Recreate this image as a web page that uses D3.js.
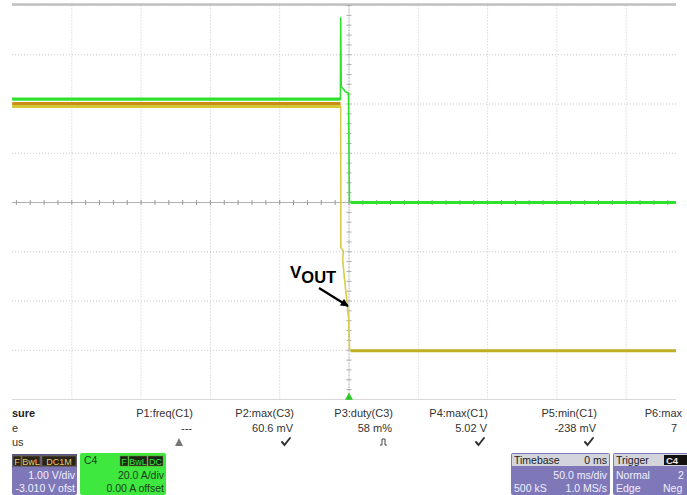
<!DOCTYPE html>
<html><head><meta charset="utf-8">
<script src="https://cdn.jsdelivr.net/npm/d3@7"></script>
<style>
body{margin:0;background:#fff}
svg{display:block;font-family:"Liberation Sans",Arial,sans-serif}
</style>
</head><body>
<svg id="c" width="687" height="495"></svg>
<script>
// ---------- data ----------
const timeDomain = [-250, 250];          // ms, 50 ms/div, 10 div
const divDomain = [-4, 4];               // vertical divisions
const c1VoltsPerDiv = 1.0, c1Offset = -3.010;
const c4AmpsPerDiv = 20.0, c4Offset = 0.0;
// C4 current trace [ms, A]
const c4Time = [-243, -6.2, -6.0, -5.6, -4.6, -2.6, -0.4, 0.3, 1.3, 236];
const c4Amps = [42, 42, 75, 47, 46.5, 45, 44.5, 0.5, 0, 0];
// C1 output voltage trace [ms, V]
const c1Time = [-243, -6.0, -5.9, -4.0, -4.6, -3.4, -1.2, -0.3, 0.4, 1.3, 236];
const c1Volts = [4.96, 4.96, 2.1, 2.02, 1.86, 1.5, 0.92, 0.66, 0.02, 0.0, 0.0];
// C1 persistence (upper band, max level)
const c1MaxTime = [-243, -6.1];
const c1MaxVolts = [5.02, 5.02];
// measurements
const measureNames = ["P1:freq(C1)", "P2:max(C3)", "P3:duty(C3)", "P4:max(C1)", "P5:min(C1)", "P6:max"];
const measureValues = ["---", "60.6 mV", "58 m%", "5.02 V", "-238 mV", "7"];
const measureStatus = ["warn", "ok", "pulse", "ok", "ok", "none"];
const rowLabels = ["sure", "e", "us"];   // visible ends of Measure / value / status

// ---------- layout ----------
const svg = d3.select("#c");
const plot = {left: 12, right: 676, top: 5.5, bottom: 399.5};
const x = d3.scaleLinear().domain(timeDomain).range([2.5, 695.5]);
const y = d3.scaleLinear().domain(divDomain).range([plot.bottom, plot.top]);
const yC1 = v => y((v + c1Offset) / c1VoltsPerDiv);
const yC4 = a => y((a + c4Offset) / c4AmpsPerDiv);

const defs = svg.append("defs");
defs.append("clipPath").attr("id", "pc").append("rect")
  .attr("x", plot.left).attr("y", 0).attr("width", plot.right - plot.left).attr("height", 402);
defs.append("clipPath").attr("id", "all").append("rect")
  .attr("x", 12).attr("y", 0).attr("width", 675).attr("height", 495);
defs.append("marker").attr("id", "ah").attr("viewBox", "0 0 10 10")
  .attr("refX", 9).attr("refY", 5).attr("markerWidth", 4.2).attr("markerHeight", 3.6)
  .attr("orient", "auto").append("path").attr("d", "M0,0L10,5L0,10z").attr("fill", "#000");

const g = svg.append("g").attr("clip-path", "url(#pc)");

// grid
const vLines = d3.range(-250, 251, 50);
const hLines = d3.range(-4, 5, 1);
g.selectAll("line.v").data(vLines).join("line")
  .attr("x1", d => x(d)).attr("x2", d => x(d)).attr("y1", plot.top).attr("y2", plot.bottom)
  .attr("stroke", "#c8c8c8").attr("stroke-width", 1).attr("stroke-dasharray", "1,2");
g.selectAll("line.h").data(hLines).join("line")
  .attr("x1", plot.left).attr("x2", plot.right).attr("y1", d => y(d)).attr("y2", d => y(d))
  .attr("stroke", "#c8c8c8").attr("stroke-width", 1).attr("stroke-dasharray", "1,2");
g.append("line").attr("x1", plot.left).attr("x2", plot.right).attr("y1", 4.5).attr("y2", 4.5)
  .attr("stroke", "#c0c0c0").attr("stroke-width", 2.5);
g.append("line").attr("x1", plot.left).attr("x2", plot.right).attr("y1", plot.bottom).attr("y2", plot.bottom)
  .attr("stroke", "#d8d8d8").attr("stroke-width", 1);
// centre axes with minor ticks
g.append("line").attr("x1", plot.left).attr("x2", plot.right).attr("y1", y(0)).attr("y2", y(0))
  .attr("stroke", "#b0b0b0").attr("stroke-width", 1);
g.append("line").attr("x1", x(0)).attr("x2", x(0)).attr("y1", plot.top).attr("y2", plot.bottom)
  .attr("stroke", "#c0c0c0").attr("stroke-width", 1).attr("stroke-dasharray", "2,1");
g.selectAll("line.tx").data(d3.range(-250, 251, 10)).join("line")
  .attr("x1", d => x(d)).attr("x2", d => x(d)).attr("y1", y(0) - 2.5).attr("y2", y(0) + 2.5)
  .attr("stroke", "#999").attr("stroke-width", 1);
g.selectAll("line.ty").data(d3.range(-4, 4.01, 0.2)).join("line")
  .attr("x1", x(0) - 2.5).attr("x2", x(0) + 2.5).attr("y1", d => y(d)).attr("y2", d => y(d))
  .attr("stroke", "#aaa").attr("stroke-width", 1);

// traces
const line = d3.line();
const c1Pts = c1Time.map((t, i) => [x(t), yC1(c1Volts[i])]);
const c1MaxPts = c1MaxTime.map((t, i) => [x(t), yC1(c1MaxVolts[i])]);
const c4Pts = c4Time.map((t, i) => [x(t), yC4(c4Amps[i])]);
const n1 = c1Pts.length, n4 = c4Pts.length;

// C1: thin transition, thick flat levels
g.append("path").attr("d", line(c1Pts)).attr("fill", "none")
  .attr("stroke", "#d8cc48").attr("stroke-width", 1.6);
g.append("path").attr("d", line(c1Pts.slice(0, 2))).attr("fill", "none")
  .attr("stroke", "#d6c634").attr("stroke-width", 3.2);
g.append("path").attr("d", line(c1Pts.slice(n1 - 2))).attr("fill", "none")
  .attr("stroke", "#bfae20").attr("stroke-width", 3.2);
g.append("path").attr("d", line(c1MaxPts)).attr("fill", "none")
  .attr("stroke", "#c98d18").attr("stroke-width", 3);
// C4
g.append("path").attr("d", line(c4Pts)).attr("fill", "none")
  .attr("stroke", "#2fe02f").attr("stroke-width", 1.6).attr("stroke-linejoin", "round");
g.append("path").attr("d", line(c4Pts.slice(0, 2))).attr("fill", "none")
  .attr("stroke", "#2fe02f").attr("stroke-width", 3.2);
g.append("path").attr("d", line(c4Pts.slice(n4 - 2))).attr("fill", "none")
  .attr("stroke", "#2fe02f").attr("stroke-width", 3.2);

// trigger marker
svg.append("path").attr("d", d3.symbol(d3.symbolTriangle, 28)())
  .attr("transform", `translate(${x(0)},${plot.bottom - 2})`).attr("fill", "#2ccc2c");

// VOUT annotation
const ann = svg.append("text").attr("font-weight", "bold").attr("fill", "#000");
ann.append("tspan").attr("x", 290).attr("y", 278).attr("font-size", 17).text("V");
ann.append("tspan").attr("dy", 5).attr("font-size", 16.5).text("OUT");
svg.append("line").attr("x1", 319).attr("y1", 288).attr("x2", 348).attr("y2", 306)
  .attr("stroke", "#000").attr("stroke-width", 2.2).attr("marker-end", "url(#ah)");

// ---------- bottom panel ----------
const bp = svg.append("g").attr("clip-path", "url(#all)");
const rowY = [417, 432, 446];
bp.append("text").attr("x", 12).attr("y", rowY[0]).attr("font-size", 11).attr("font-weight", "bold")
  .attr("fill", "#222").text(rowLabels[0]);
bp.append("text").attr("x", 12).attr("y", rowY[1]).attr("font-size", 11).attr("fill", "#333").text(rowLabels[1]);
bp.append("text").attr("x", 12).attr("y", rowY[2]).attr("font-size", 11).attr("fill", "#333").text(rowLabels[2]);

const colRight = [193, 294, 393, 488, 597, 682];
const mcol = bp.selectAll("g.m").data(measureNames).join("g");
mcol.append("text").attr("x", (d, i) => colRight[i]).attr("y", rowY[0]).attr("text-anchor", "end")
  .attr("font-size", 11).attr("fill", "#333").text(d => d);
mcol.append("text").attr("x", (d, i) => i === 5 ? 677 : colRight[i] - 1).attr("y", rowY[1]).attr("text-anchor", "end")
  .attr("font-size", 11).attr("fill", "#333").text((d, i) => measureValues[i]);
mcol.each(function(d, i) {
  const s = measureStatus[i], cx = colRight[i] - 8, cy = rowY[2] - 4;
  const sel = d3.select(this);
  if (s === "ok") {
    sel.append("path").attr("d", `M${cx-4},${cy}L${cx-1.5},${cy+3}L${cx+4},${cy-4}`)
      .attr("fill", "none").attr("stroke", "#333").attr("stroke-width", 2).attr("stroke-linecap", "round");
  } else if (s === "warn") {
    sel.append("path").attr("d", `M${cx-10},${cy+4}L${cx-6},${cy-4}L${cx-2},${cy+4}z`).attr("fill", "#777");
  } else if (s === "pulse") {
    sel.append("path").attr("d", `M${cx-5},${cy+3}L${cx-3},${cy+3}L${cx-3},${cy-3}L${cx},${cy-3}L${cx},${cy+3}L${cx+2},${cy+3}`)
      .attr("fill", "none").attr("stroke", "#444").attr("stroke-width", 1);
  }
});

// channel boxes
function tag(parent, x0, w, txt, bg, fg) {
  parent.append("rect").attr("x", x0).attr("y", 456).attr("width", w).attr("height", 10).attr("fill", bg).attr("stroke", "#8a7a40").attr("stroke-width", 0.5);
  parent.append("text").attr("x", x0 + w / 2).attr("y", 464.5).attr("text-anchor", "middle")
    .attr("font-size", 9).attr("fill", fg).text(txt);
}
// C1
bp.append("rect").attr("x", 12).attr("y", 454).attr("width", 65).attr("height", 41).attr("rx", 2).attr("fill", "#7f78b8");
bp.append("rect").attr("x", 12).attr("y", 454).attr("width", 65).attr("height", 13).attr("fill", "#5a5480");
tag(bp, 13, 8, "F", "#2a2418", "#e8c870");
tag(bp, 22, 18, "BwL", "#2a2418", "#e8c870");
tag(bp, 42, 34, "DC1M", "#2a2418", "#e8c870");
bp.append("text").attr("x", 75).attr("y", 479).attr("text-anchor", "end").attr("font-size", 10.5).attr("fill", "#f0f0ff").text("1.00 V/div");
bp.append("text").attr("x", 75).attr("y", 492).attr("text-anchor", "end").attr("font-size", 10.5).attr("fill", "#f0f0ff").text("-3.010 V ofst");
// C4
bp.append("rect").attr("x", 80).attr("y", 453).attr("width", 86).attr("height", 42).attr("rx", 2).attr("fill", "#3ee83e");
bp.append("text").attr("x", 84).attr("y", 464).attr("font-size", 10.5).attr("fill", "#1d3d1d").text("C4");
tag(bp, 120, 8, "F", "#142814", "#40e040");
tag(bp, 129, 18, "BwL", "#142814", "#40e040");
tag(bp, 148, 15, "DC", "#142814", "#40e040");
bp.append("text").attr("x", 164).attr("y", 479).attr("text-anchor", "end").attr("font-size", 10.5).attr("fill", "#1d3d1d").text("20.0 A/div");
bp.append("text").attr("x", 164).attr("y", 492).attr("text-anchor", "end").attr("font-size", 10.5).attr("fill", "#1d3d1d").text("0.00 A offset");
// Timebase
bp.append("rect").attr("x", 511).attr("y", 453).attr("width", 99).attr("height", 42).attr("rx", 2).attr("fill", "#7f78b8");
bp.append("rect").attr("x", 512).attr("y", 454).attr("width", 97).attr("height", 12).attr("fill", "#d4d4dc");
bp.append("text").attr("x", 514).attr("y", 464).attr("font-size", 10.5).attr("fill", "#222").text("Timebase");
bp.append("text").attr("x", 607).attr("y", 464).attr("text-anchor", "end").attr("font-size", 10.5).attr("fill", "#222").text("0 ms");
bp.append("text").attr("x", 607).attr("y", 479).attr("text-anchor", "end").attr("font-size", 10.5).attr("fill", "#f0f0ff").text("50.0 ms/div");
bp.append("text").attr("x", 514).attr("y", 492).attr("font-size", 10.5).attr("fill", "#f0f0ff").text("500 kS");
bp.append("text").attr("x", 607).attr("y", 492).attr("text-anchor", "end").attr("font-size", 10.5).attr("fill", "#f0f0ff").text("1.0 MS/s");
// Trigger
bp.append("rect").attr("x", 613).attr("y", 453).attr("width", 90).attr("height", 42).attr("rx", 2).attr("fill", "#7f78b8");
bp.append("rect").attr("x", 614).attr("y", 454).attr("width", 88).attr("height", 12).attr("fill", "#d4d4dc");
bp.append("text").attr("x", 616).attr("y", 464).attr("font-size", 10.5).attr("fill", "#222").text("Trigger");
bp.append("rect").attr("x", 664).attr("y", 455).attr("width", 23).attr("height", 10).attr("fill", "#111");
bp.append("text").attr("x", 666).attr("y", 464).attr("font-size", 9.5).attr("font-weight", "bold").attr("fill", "#e8e8e8").text("C4");
bp.append("text").attr("x", 616).attr("y", 479).attr("font-size", 10.5).attr("fill", "#f0f0ff").text("Normal");
bp.append("text").attr("x", 678).attr("y", 479).attr("font-size", 10.5).attr("fill", "#f0f0ff").text("2");
bp.append("text").attr("x", 663).attr("y", 492).attr("font-size", 10.5).attr("fill", "#f0f0ff").text("Neg");
bp.append("text").attr("x", 616).attr("y", 492).attr("font-size", 10.5).attr("fill", "#f0f0ff").text("Edge");
</script>
</body></html>
